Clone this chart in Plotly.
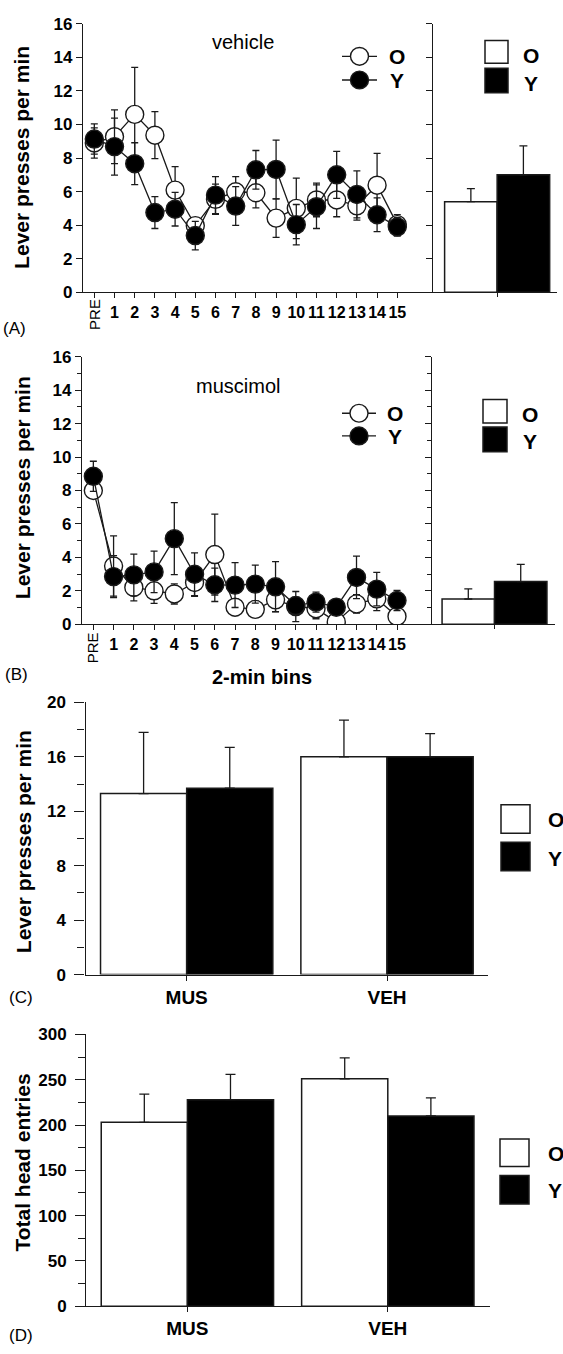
import plotly.graph_objects as go

W, H = 563, 1354
FONT = "Liberation Sans, Arial, sans-serif"

# ---------------- data ----------------
bin_labels = ["PRE", "1", "2", "3", "4", "5", "6", "7", "8", "9", "10", "11", "12", "13", "14", "15"]

veh_O = [8.9, 9.27, 10.6, 9.36, 6.09, 3.97, 5.54, 5.99, 5.93, 4.42, 5.0, 5.5, 5.5, 5.15, 6.38, 4.03]
veh_O_err = [0.9, 1.6, 2.8, 1.4, 1.4, 0.45, 0.9, 0.9, 0.9, 1.15, 1.8, 1.0, 1.0, 0.85, 1.9, 0.6]
veh_Y = [9.13, 8.68, 7.66, 4.75, 4.95, 3.38, 5.79, 5.14, 7.3, 7.32, 4.03, 5.1, 7.0, 5.83, 4.62, 3.9]
veh_Y_err = [0.9, 1.7, 1.25, 0.95, 1.0, 0.85, 1.1, 1.15, 1.15, 1.75, 1.2, 1.3, 1.4, 1.4, 1.0, 0.55]

mus_O = [8.0, 3.48, 2.2, 2.0, 1.81, 2.5, 4.17, 1.02, 0.89, 1.46, 1.06, 0.93, 0.14, 1.22, 1.52, 0.47]
mus_O_err = [0.3, 1.8, 0.8, 0.75, 0.6, 0.83, 2.42, 0.5, 0.5, 0.7, 0.9, 0.6, 0.2, 0.55, 0.7, 0.3]
mus_Y = [8.85, 2.85, 2.95, 3.13, 5.12, 2.99, 2.36, 2.34, 2.4, 2.24, 1.12, 1.32, 1.02, 2.8, 2.1, 1.42]
mus_Y_err = [0.9, 1.25, 1.25, 1.24, 2.15, 1.28, 1.0, 1.34, 1.14, 1.5, 0.5, 0.6, 0.3, 1.27, 1.0, 0.6]

veh_total_O, veh_total_O_err = 5.4, 0.78
veh_total_Y, veh_total_Y_err = 7.0, 1.72
mus_total_O, mus_total_O_err = 1.51, 0.6
mus_total_Y, mus_total_Y_err = 2.55, 1.03

cond_labels = ["MUS", "VEH"]
press_O = [13.3, 16.0]
press_O_err = [4.5, 2.7]
press_Y = [13.7, 16.0]
press_Y_err = [3.0, 1.7]

head_O = [203, 251]
head_O_err = [31, 23]
head_Y = [228, 210]
head_Y_err = [28, 20]

group_labels = ["O", "Y"]

# ---------------- helpers ----------------
def px(x):
    return x / W

def py(y):
    return 1 - y / H

INK = "#1a1a1a"
bins_x = list(range(len(bin_labels)))
tick_txt = ["" if t == "PRE" else t for t in bin_labels]

fig = go.Figure()

def line_traces(xa, ya, o, oe, yv, ye):
    fig.add_trace(go.Scatter(
        x=bins_x, y=o, mode="lines+markers", xaxis=xa, yaxis=ya, showlegend=False,
        line=dict(color=INK, width=1.3),
        marker=dict(size=18, color="white", line=dict(color=INK, width=1.4)),
        error_y=dict(type="data", array=oe, color=INK, thickness=1.3, width=3.5)))
    fig.add_trace(go.Scatter(
        x=bins_x, y=yv, mode="lines+markers", xaxis=xa, yaxis=ya, showlegend=False,
        line=dict(color=INK, width=1.3),
        marker=dict(size=18, color="black", line=dict(color=INK, width=1.4)),
        error_y=dict(type="data", array=ye, color=INK, thickness=1.3, width=3.5)))

def bar_traces(xa, ya, xs, o, oe, yv, ye, capw):
    fig.add_trace(go.Bar(
        x=xs, y=o, xaxis=xa, yaxis=ya, showlegend=False, name=group_labels[0],
        marker=dict(color="white", line=dict(color=INK, width=1.5)),
        error_y=dict(type="data", array=oe, arrayminus=[0] * len(o), symmetric=False,
                     color=INK, thickness=1.3, width=capw)))
    fig.add_trace(go.Bar(
        x=xs, y=yv, xaxis=xa, yaxis=ya, showlegend=False, name=group_labels[1],
        marker=dict(color="black", line=dict(color=INK, width=1.5)),
        error_y=dict(type="data", array=ye, arrayminus=[0] * len(yv), symmetric=False,
                     color=INK, thickness=1.3, width=capw)))

# Panel A
line_traces("x", "y", veh_O, veh_O_err, veh_Y, veh_Y_err)
bar_traces("x2", "y2", [0], [veh_total_O], [veh_total_O_err], [veh_total_Y], [veh_total_Y_err], 4)
# Panel B
line_traces("x3", "y3", mus_O, mus_O_err, mus_Y, mus_Y_err)
bar_traces("x4", "y4", [0], [mus_total_O], [mus_total_O_err], [mus_total_Y], [mus_total_Y_err], 4)
# Panel C
cond_x = list(range(len(cond_labels)))
bar_traces("x5", "y5", cond_x, press_O, press_O_err, press_Y, press_Y_err, 5)
# Panel D
bar_traces("x6", "y6", cond_x, head_O, head_O_err, head_Y, head_Y_err, 5)

axis_common = dict(showline=True, linecolor=INK, linewidth=1.3, showgrid=False, zeroline=False,
                   ticks="outside", tickcolor=INK, tickwidth=1.2, fixedrange=True)
tickfont = dict(family=FONT, size=17, color="black", weight="bold")
bintickfont = dict(family=FONT, size=16, color="black", weight="bold")
condfont = dict(family=FONT, size=19, color="black", weight="bold")

yA = [py(287.3), py(15)]
yB = [py(624), py(352.7)]
yC = [py(979.3), py(703.3)]
yD = [py(1315.7), py(1040)]

fig.update_layout(
    xaxis=dict(domain=[px(83), px(430)], range=[-0.56, 16.62], anchor="y",
               tickmode="array", tickvals=bins_x, ticktext=tick_txt, ticklen=5, tickangle=0,
               tickfont=bintickfont, **axis_common),
    yaxis=dict(domain=yA, range=[0, 16], anchor="x", dtick=2, ticklen=6,
               tickfont=tickfont, **axis_common),
    xaxis2=dict(domain=[px(433), px(557)], range=[-0.525, 0.49], anchor="y2",
                tickmode="array", tickvals=[0], showticklabels=False, ticklen=4, **axis_common),
    yaxis2=dict(domain=yA, range=[0, 16], anchor="x2", dtick=2, ticklen=6,
                showticklabels=False, **axis_common),
    xaxis3=dict(domain=[px(82), px(430)], range=[-0.56, 16.63], anchor="y3",
                tickmode="array", tickvals=bins_x, ticktext=tick_txt, ticklen=5, tickangle=0,
                tickfont=bintickfont, **axis_common),
    yaxis3=dict(domain=yB, range=[0, 16], anchor="x3", dtick=2, ticklen=6,
                minor=dict(dtick=1, ticks="outside", ticklen=4, tickcolor=INK),
                tickfont=tickfont, **axis_common),
    xaxis4=dict(domain=[px(431.7), px(555)], range=[-0.515, 0.496], anchor="y4",
                tickmode="array", tickvals=[0], showticklabels=False, ticklen=4, **axis_common),
    yaxis4=dict(domain=yB, range=[0, 16], anchor="x4", dtick=2, ticklen=6,
                minor=dict(dtick=1, ticks="outside", ticklen=4, tickcolor=INK),
                showticklabels=False, **axis_common),
    xaxis5=dict(domain=[px(85.5), px(488)], range=[-0.505, 1.504], anchor="y5",
                tickmode="array", tickvals=cond_x, ticktext=cond_labels, ticklen=5, tickangle=0,
                tickfont=condfont, **axis_common),
    yaxis5=dict(domain=yC, range=[0, 20], anchor="x5", dtick=4, ticklen=10,
                minor=dict(dtick=2, ticks="outside", ticklen=7, tickcolor=INK),
                ticklabelstandoff=5, tickfont=tickfont, **axis_common),
    xaxis6=dict(domain=[px(86.2), px(490)], range=[-0.505, 1.51], anchor="y6",
                tickmode="array", tickvals=cond_x, ticktext=cond_labels, ticklen=5, tickangle=0,
                tickfont=condfont, **axis_common),
    yaxis6=dict(domain=yD, range=[0, 300], anchor="x6", dtick=50, ticklen=10,
                minor=dict(dtick=25, ticks="outside", ticklen=7, tickcolor=INK),
                ticklabelstandoff=5, tickfont=tickfont, **axis_common),
)

annotations = []
shapes = []

def txt(x, y, s, size, bold=False, angle=0, xanchor="center", yanchor="middle", xref="paper", height=None):
    a = dict(
        x=x if xref != "paper" else px(x), y=py(y), xref=xref, yref="paper", text=s,
        showarrow=False, textangle=angle, xanchor=xanchor, yanchor=yanchor, borderpad=0,
        font=dict(family=FONT, size=size, color="black", weight="bold" if bold else "normal"))
    if height:
        a["height"] = height
    annotations.append(a)

# y axis titles
txt(22, 151, "Lever presses per min", 21, bold=True, angle=-90)
txt(22, 486, "Lever presses per min", 21, bold=True, angle=-90)
txt(23, 845, "Lever presses per min", 21, bold=True, angle=-90)
txt(23, 1170, "Total head entries", 21, bold=True, angle=-90)

# rotated PRE tick labels
txt(bins_x[0], 310, bin_labels[0], 15, angle=-90, xref="x")
txt(bins_x[0], 648, bin_labels[0], 15, angle=-90, xref="x3")

# condition labels in panels
txt(243, 33, "vehicle", 20)
txt(238, 382, "muscimol", 20)
txt(262, 677, "2-min bins", 20, bold=True)

# panel letters
txt(2, 324, "(A)", 17, xanchor="left")
txt(4, 675, "(B)", 17, xanchor="left")
txt(8, 1003, "(C)", 17, xanchor="left")
txt(8, 1345, "(D)", 17, xanchor="left")

def circle_legend(x0, x1, yO, yYv, tx):
    cx = (x0 + x1) / 2
    r = 9
    for yy, fill in [(yO, "white"), (yYv, "black")]:
        shapes.append(dict(type="line", xref="paper", yref="paper",
                           x0=px(x0), x1=px(x1), y0=py(yy), y1=py(yy),
                           line=dict(color=INK, width=1.3)))
        shapes.append(dict(type="circle", xref="paper", yref="paper",
                           x0=px(cx - r), x1=px(cx + r), y0=py(yy + r), y1=py(yy - r),
                           fillcolor=fill, line=dict(color=INK, width=1.4)))
    txt(tx, yO, group_labels[0], 21, bold=True, height=20)
    txt(tx, yYv, group_labels[1], 21, bold=True, height=20)

def square_legend(x0, x1, oy, yy, tx, ty, anchor="center"):
    shapes.append(dict(type="rect", xref="paper", yref="paper",
                       x0=px(x0), x1=px(x1), y0=py(oy[1]), y1=py(oy[0]),
                       fillcolor="white", line=dict(color=INK, width=1.5)))
    shapes.append(dict(type="rect", xref="paper", yref="paper",
                       x0=px(x0), x1=px(x1), y0=py(yy[1]), y1=py(yy[0]),
                       fillcolor="black", line=dict(color=INK, width=1.5)))
    txt(tx, ty[0], group_labels[0], 21, bold=True, xanchor=anchor, height=20)
    txt(tx, ty[1], group_labels[1], 21, bold=True, xanchor=anchor, height=20)

circle_legend(342, 377, 48, 72, 397)
square_legend(485, 508, (32, 55), (60, 85), 531, (47, 75))
circle_legend(342, 376, 410, 433, 395)
square_legend(483, 507, (396, 420), (424, 449), 530, (411, 438))
square_legend(501, 530, (807, 836), (845, 874), 547, (822, 861), anchor="left")
square_legend(500, 529, (1146, 1174), (1183, 1212), 547, (1160, 1198), anchor="left")

fig.update_layout(
    width=W, height=H, autosize=False,
    margin=dict(l=0, r=0, t=0, b=0),
    paper_bgcolor="white", plot_bgcolor="white",
    barmode="group", bargap=0.14, bargroupgap=0,
    annotations=annotations, shapes=shapes,
    font=dict(family=FONT, color="black"),
)

fig.write_html(
    "out.html",
    config={"displayModeBar": False},
    post_script="document.body.style.margin='0';document.body.style.padding='0';"
                "document.body.style.overflow='hidden';",
)
